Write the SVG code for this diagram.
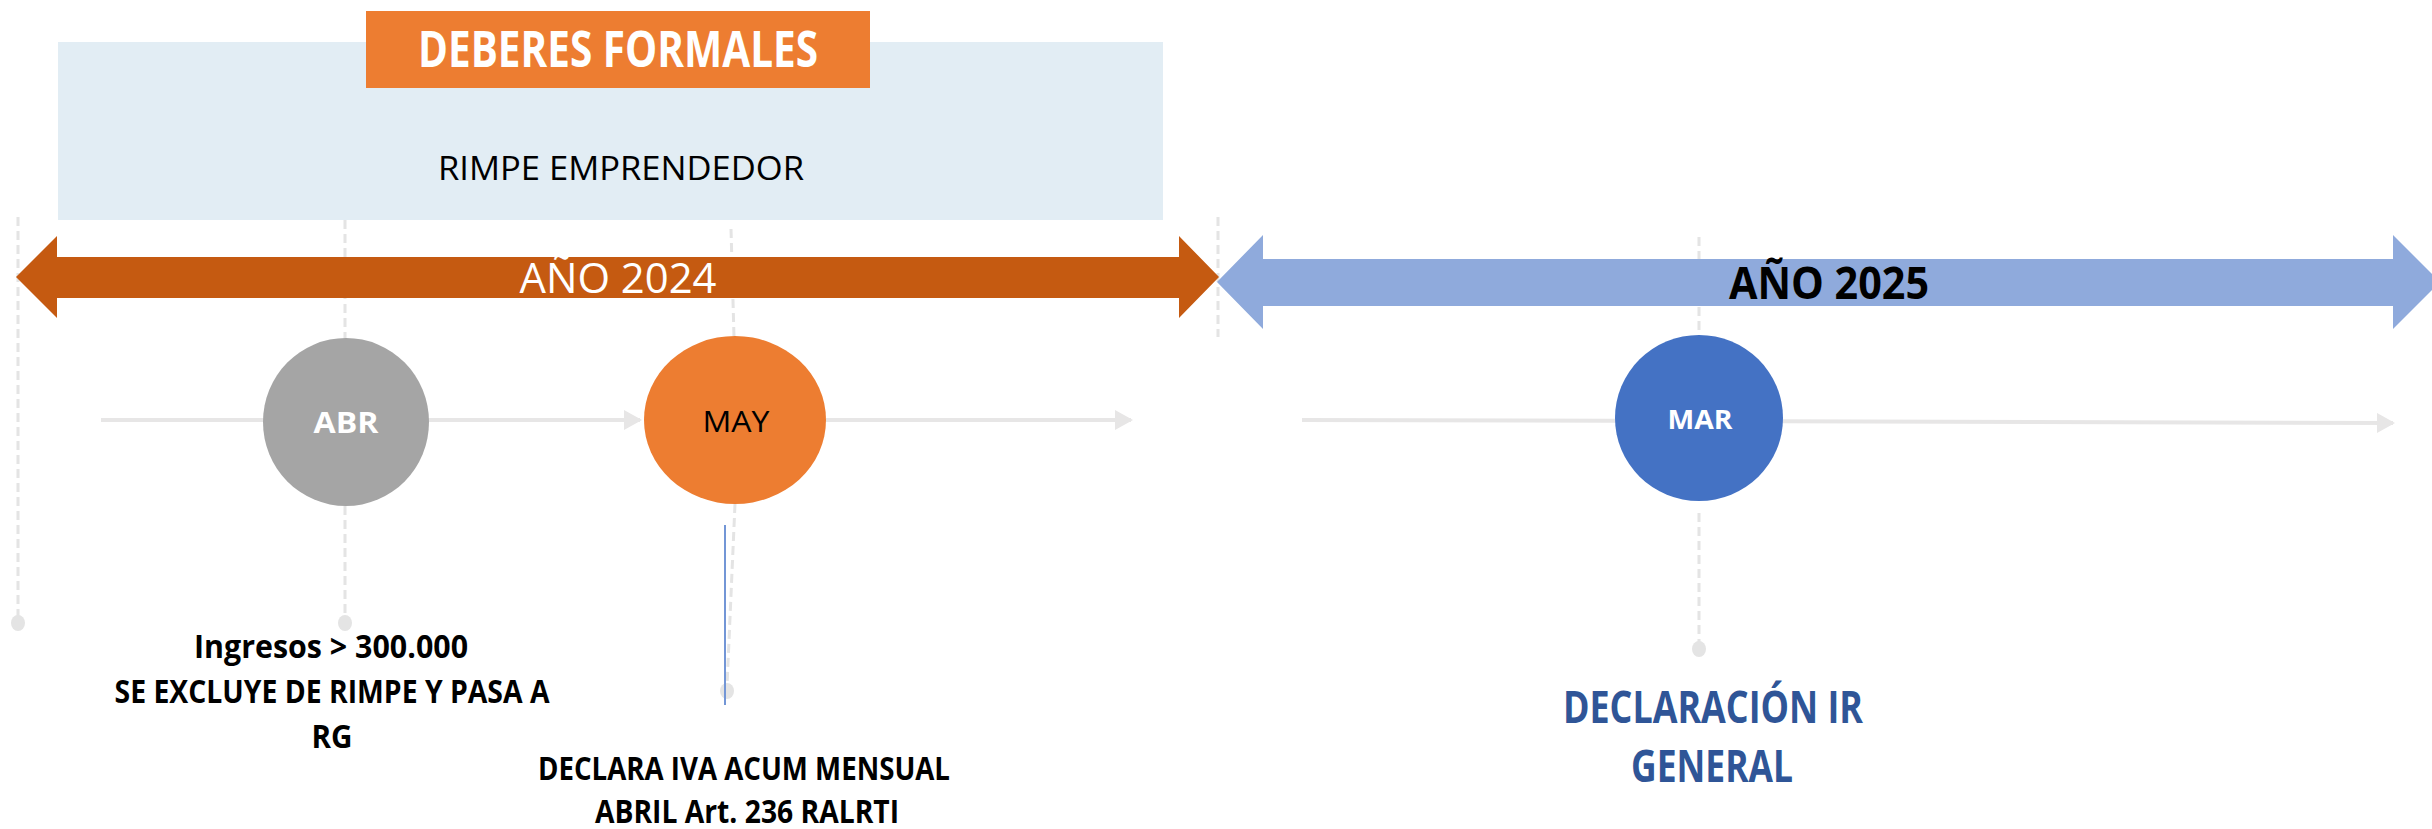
<svg xmlns="http://www.w3.org/2000/svg" width="2432" height="829" viewBox="0 0 2432 829">
<defs>
<style>
.dash{stroke:#E4E4E4;stroke-width:3;stroke-dasharray:9 5;fill:none}
.tl{stroke:#E7E6E6;stroke-width:4;fill:none}
.dot{fill:#E4E4E4}
.bc{font-family:"Open Sans","Liberation Sans",sans-serif;font-weight:bold;text-anchor:middle}
.rg{font-family:"Open Sans","Liberation Sans",sans-serif;text-anchor:middle}
</style>
<marker id="ah" markerWidth="5" markerHeight="5" refX="4" refY="2.5" orient="auto" markerUnits="strokeWidth">
<path d="M0,0 L4.5,2.5 L0,5 Z" fill="#E7E6E6"/>
</marker>
</defs>
<rect width="2432" height="829" fill="#FFFFFF"/>

<g id="rimpe-box">
<rect x="58" y="42" width="1105" height="178" fill="#E2EDF4"/>
<text class="rg" x="621" y="180" font-size="33" fill="#000000" textLength="366" lengthAdjust="spacingAndGlyphs">RIMPE EMPRENDEDOR</text>
</g>

<g id="title">
<rect x="366" y="11" width="504" height="77" fill="#ED7D31"/>
<text class="bc" x="618" y="67" font-size="50" fill="#FFFFFF" textLength="400" lengthAdjust="spacingAndGlyphs">DEBERES FORMALES</text>
</g>

<g id="guides">
<line class="dash" x1="18" y1="217" x2="18" y2="618"/>
<line class="dash" x1="345" y1="220" x2="345" y2="340"/>
<line class="dash" x1="345" y1="506" x2="345" y2="618"/>
<line class="dash" x1="731" y1="229" x2="734" y2="337"/>
<line class="dash" x1="735" y1="504" x2="727" y2="686"/>
<line class="dash" x1="1218" y1="217" x2="1218" y2="337"/>
<line class="dash" x1="1699" y1="237" x2="1699" y2="335"/>
<line class="dash" x1="1699" y1="513" x2="1699" y2="644"/>
<ellipse class="dot" cx="18" cy="623" rx="7" ry="8"/>
<ellipse class="dot" cx="345" cy="623" rx="7" ry="8"/>
<ellipse class="dot" cx="727" cy="691" rx="7" ry="8"/>
<ellipse class="dot" cx="1699" cy="649" rx="7" ry="8"/>
</g>

<g id="year-2024">
<polygon points="16,277 57,236 57,257 1179,257 1179,236 1219,277 1179,318 1179,298 57,298 57,318" fill="#C55A11"/>
<text class="rg" x="618" y="293" font-size="42" fill="#FFFFFF" textLength="197" lengthAdjust="spacingAndGlyphs">AÑO 2024</text>
</g>

<g id="year-2025">
<polygon points="1217,282 1263,235 1263,259 2393,259 2393,235 2440,282 2393,329 2393,306 1263,306 1263,329" fill="#8FAADC"/>
<text class="bc" x="1829" y="299" font-size="44" fill="#000000" textLength="200" lengthAdjust="spacingAndGlyphs">AÑO 2025</text>
</g>

<g id="connectors">
<line class="tl" x1="101" y1="420" x2="640" y2="420" marker-end="url(#ah)"/>
<line class="tl" x1="826" y1="420" x2="1131" y2="420" marker-end="url(#ah)"/>
<line class="tl" x1="1302" y1="420" x2="2393" y2="423" marker-end="url(#ah)"/>
<line x1="725" y1="525" x2="725" y2="705" stroke="#7396D6" stroke-width="2"/>
</g>

<g id="abr">
<ellipse cx="346" cy="422" rx="83" ry="84" fill="#A5A5A5"/>
<text class="bc" x="346" y="433" font-size="29" fill="#FFFFFF" textLength="65" lengthAdjust="spacingAndGlyphs">ABR</text>
</g>

<g id="may">
<ellipse cx="735" cy="420" rx="91" ry="84" fill="#ED7D31"/>
<text class="rg" x="736" y="432" font-size="30" fill="#000000" textLength="67" lengthAdjust="spacingAndGlyphs">MAY</text>
</g>

<g id="mar">
<ellipse cx="1699" cy="418" rx="84" ry="83" fill="#4472C4"/>
<text class="bc" x="1700" y="429" font-size="27" fill="#FFFFFF" textLength="65" lengthAdjust="spacingAndGlyphs">MAR</text>
</g>

<g id="label-abr">
<text class="bc" x="331" y="658" font-size="32" fill="#000000" textLength="274" lengthAdjust="spacingAndGlyphs">Ingresos &gt; 300.000</text>
<text class="bc" x="332" y="703" font-size="32" fill="#000000" textLength="435" lengthAdjust="spacingAndGlyphs">SE EXCLUYE DE RIMPE Y PASA A</text>
<text class="bc" x="332" y="748" font-size="32" fill="#000000" textLength="41" lengthAdjust="spacingAndGlyphs">RG</text>
</g>

<g id="label-may">
<text class="bc" x="744" y="780" font-size="32" fill="#000000" textLength="412" lengthAdjust="spacingAndGlyphs">DECLARA IVA ACUM MENSUAL</text>
<text class="bc" x="747" y="823" font-size="32" fill="#000000" textLength="304" lengthAdjust="spacingAndGlyphs">ABRIL Art. 236 RALRTI</text>
</g>

<g id="label-mar">
<text class="bc" x="1713" y="723" font-size="45" fill="#2F5597" textLength="300" lengthAdjust="spacingAndGlyphs">DECLARACIÓN IR</text>
<text class="bc" x="1712" y="782" font-size="45" fill="#2F5597" textLength="162" lengthAdjust="spacingAndGlyphs">GENERAL</text>
</g>
</svg>
